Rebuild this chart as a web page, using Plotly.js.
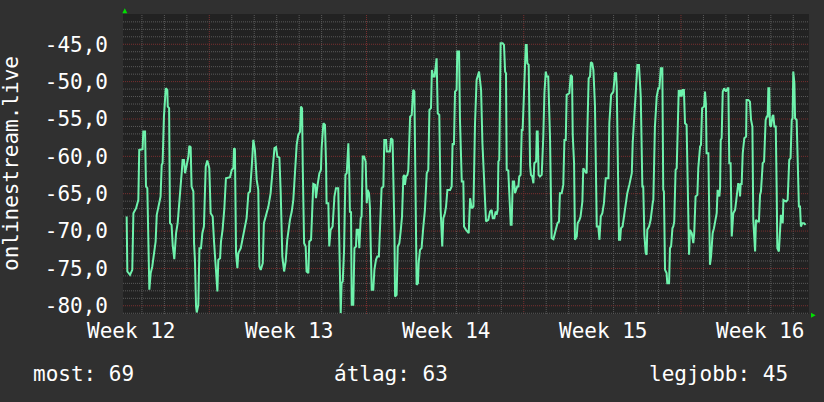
<!DOCTYPE html>
<html><head><meta charset="utf-8">
<script src="https://cdn.plot.ly/plotly-3.0.1.min.js"></script>
<style>html,body{margin:0;padding:0;background:#303030;}#chart{width:824px;height:402px;}</style>
</head><body><div id="chart"></div>
<script>
// time in days since Monday of week 12
const days = [3.32,3.35,3.47,3.57,3.62,3.74,3.84,3.88,4.03,4.06,4.14,4.18,4.24,4.29,4.33,4.39,4.46,4.54,4.61,4.66,4.76,4.83,4.88,4.92,4.98,5.06,5.13,5.15,5.21,5.25,5.32,5.37,5.44,5.52,5.59,5.67,5.74,5.78,5.81,5.87,5.92,5.99,6.07,6.11,6.17,6.21,6.29,6.32,6.36,6.41,6.44,6.51,6.56,6.63,6.69,6.76,6.84,6.91,7.00,7.06,7.15,7.21,7.30,7.36,7.40,7.48,7.52,7.59,7.67,7.74,7.92,8.00,8.07,8.10,8.14,8.19,8.25,8.29,8.40,8.51,8.59,8.66,8.74,8.81,8.89,8.96,9.03,9.11,9.18,9.23,9.29,9.38,9.43,9.55,9.63,9.73,9.82,9.90,9.97,10.03,10.12,10.18,10.25,10.33,10.40,10.47,10.59,10.67,10.74,10.82,10.89,10.96,11.04,11.08,11.13,11.16,11.22,11.29,11.33,11.41,11.45,11.53,11.59,11.63,11.71,11.75,11.82,11.90,
11.97,12.00,12.08,12.15,12.20,12.22,12.30,12.34,12.40,12.49,12.57,12.64,12.74,12.79,12.85,12.89,12.94,13.00,13.06,13.12,13.19,13.23,13.26,13.31,13.34,13.41,13.46,13.53,13.56,13.63,13.68,13.74,13.78,13.83,13.89,13.96,14.01,14.05,14.11,14.15,14.20,14.23,14.30,14.35,14.42,14.48,14.55,14.60,14.67,14.75,14.79,14.87,14.90,15.04,15.09,15.16,15.19,15.24,15.27,15.34,15.39,15.46,15.52,15.58,15.64,15.68,15.71,15.76,15.82,15.86,15.94,16.01,16.08,16.13,16.17,16.23,16.29,16.32,16.38,16.45,16.53,16.60,16.68,16.75,16.80,16.87,16.91,16.97,17.03,17.09,17.12,17.17,17.24,17.30,17.37,17.42,17.49,17.54,17.60,17.72,17.79,17.83,17.89,17.94,18.01,18.04,18.12,18.16,18.24,18.31,18.34,18.43,18.55,18.61,18.68,18.76,18.83,18.90,19.01,19.05,19.10,19.16,19.27,19.32,19.42,19.50,19.57,19.62,19.69,19.75,19.79,19.84,
19.87,19.91,19.97,20.06,20.12,20.17,20.21,20.24,20.31,20.42,20.46,20.51,20.57,20.61,20.66,20.71,20.76,20.80,20.86,20.91,20.95,21.01,21.06,21.09,21.13,21.16,21.22,21.25,21.28,21.32,21.38,21.43,21.47,21.55,21.58,21.62,21.66,21.72,21.80,21.87,21.92,21.98,22.02,22.09,22.17,22.24,22.32,22.50,22.57,22.61,22.69,22.76,22.81,22.87,22.91,23.03,23.09,23.15,23.18,23.24,23.28,23.36,23.40,23.48,23.53,23.61,23.65,23.73,23.80,23.83,23.89,23.95,23.99,24.05,24.10,24.17,24.25,24.32,24.37,24.43,24.50,24.57,24.65,24.77,24.81,24.89,24.99,25.06,25.11,25.14,25.18,25.24,25.29,25.33,25.40,25.46,25.55,25.61,25.70,25.81,25.85,25.91,26.00,26.06,26.13,26.18,26.21,26.28,26.32,26.37,26.43,26.47,26.50,26.58,26.65,26.74,26.77,26.84,26.92,26.99,27.04,
27.10,27.17,27.21,27.24,27.29,27.36,27.39,27.47,27.51,27.56,27.62,27.66,27.70,27.76,27.81,27.85,27.90,27.96,28.00,28.03,28.08,28.13,28.18,28.25,28.30,28.33,28.36,28.40,28.48,28.55,28.59,28.65,28.73,28.77,28.85,28.89,28.94,29.03,29.07,29.11,29.14,29.22,29.25,29.29,29.34,29.41,29.47,29.51,29.59,29.63,29.71,29.74,29.77,29.81,29.86,29.92,29.96,30.00,30.08,30.11,30.15,30.21,30.26,30.33,30.41,30.45,30.51,30.55,30.60,30.63,30.66,30.70,30.75,30.82,30.90,30.92,31.00,31.07,31.12,31.18,31.22,31.27,31.30,31.34,31.40,31.47,31.52,31.56,31.64,31.70,31.77,31.82,31.86,31.89,31.93,31.96,32.01,32.07,32.11,32.16,32.22,32.26,32.29,32.36,32.41,32.45,32.53,32.56,32.68,32.75,32.82,32.88,32.93,32.97,33.00,33.05,33.08,33.15,33.20,33.25,33.30,33.34,33.40,33.48,33.55];
const values = [-68.05,-75.41,-75.86,-75.19,-67.61,-66.94,-65.82,-59.14,-59.05,-56.69,-56.69,-64.04,-64.26,-76.08,-77.86,-75.63,-74.74,-72.96,-71.40,-67.83,-66.49,-65.38,-61.14,-60.92,-54.68,-50.89,-51.11,-53.34,-53.56,-68.95,-69.17,-71.84,-73.76,-70.28,-68.95,-66.27,-64.26,-61.81,-60.48,-60.48,-62.26,-61.37,-60.03,-58.60,-58.78,-64.04,-64.71,-71.62,-73.85,-80.09,-80.9,-79.87,-72.29,-72.29,-70.28,-69.39,-61.37,-60.56,-61.59,-67.61,-68.05,-71.40,-75.41,-78.09,-73.85,-73.63,-71.40,-69.84,-66.94,-62.93,-62.79,-61.81,-61.59,-58.91,-59.05,-72.96,-74.96,-72.96,-72.29,-70.51,-69.61,-68.28,-64.93,-64.71,-61.37,-57.80,-59.14,-63.15,-64.49,-74.74,-75.19,-74.30,-68.95,-67.61,-66.72,-64.93,-61.37,-58.91,-58.78,-60.03,-60.16,-64.93,-73.40,-75.41,-74.07,-71.17,-68.50,-67.39,-65.82,-61.37,-58.47,-57.13,-56.69,-53.34,-53.56,-61.37,-71.62,-72.07,-75.41,-75.63,-71.40,-71.17,-67.61,-63.68,-63.82,-65.60,-63.82,-62.26,
-61.81,-58.91,-55.57,-55.79,-61.37,-66.27,-66.27,-72.07,-69.84,-69.39,-65.38,-64.26,-64.26,-71.62,-80.98,-76.97,-76.75,-72.51,-62.48,-62.26,-58.25,-62.26,-67.52,-67.39,-79.87,-79.87,-72.29,-72.07,-69.84,-69.84,-72.29,-68.28,-68.05,-60.03,-60.03,-60.70,-66.27,-64.49,-64.93,-66.72,-72.07,-77.86,-77.86,-75.19,-73.85,-73.40,-73.40,-69.39,-64.26,-64.04,-57.80,-57.80,-59.36,-59.36,-57.58,-57.80,-61.37,-69.84,-78.75,-78.53,-72.07,-71.62,-70.06,-68.05,-62.70,-62.48,-63.82,-62.70,-62.48,-61.81,-54.68,-54.46,-51.11,-51.33,-61.59,-77.19,-76.97,-74.30,-72.51,-72.29,-69.39,-67.16,-62.26,-61.81,-53.79,-53.56,-48.44,-49.33,-49.33,-46.88,-46.88,-54.23,-54.46,-67.16,-72.07,-68.28,-67.61,-66.72,-64.49,-64.49,-64.04,-58.25,-58.47,-51.33,-51.11,-45.98,-45.98,-55.12,-63.37,-63.37,-69.39,-69.84,-70.28,-65.60,-66.94,-66.72,-55.57,-49.77,-48.66,-49.77,-51.11,-58.25,-64.93,-68.72,-68.50,-67.39,-67.16,-68.28,-68.28,-67.39,-67.83,-67.16,
-60.70,-60.47,-44.87,-44.87,-45.09,-48.66,-48.88,-61.81,-61.90,-69.17,-69.17,-63.37,-63.37,-64.93,-64.49,-64.04,-64.04,-62.70,-62.48,-56.46,-56.46,-51.56,-47.55,-45.09,-45.09,-47.55,-47.77,-56.46,-61.14,-62.48,-62.70,-63.60,-60.92,-60.70,-56.69,-56.69,-62.48,-62.70,-62.48,-57.35,-51.56,-48.66,-49.33,-49.33,-57.58,-70.95,-71.09,-68.95,-68.72,-64.93,-64.93,-63.82,-57.80,-57.80,-51.78,-51.56,-49.11,-49.33,-57.13,-60.92,-71.17,-70.73,-68.95,-68.50,-68.05,-66.05,-61.59,-62.03,-62.26,-56.69,-49.55,-49.33,-47.41,-47.55,-48.44,-53.12,-69.39,-69.39,-71.17,-68.05,-67.61,-66.27,-62.93,-62.93,-55.57,-51.78,-51.33,-48.88,-48.88,-50.67,-62.70,-71.17,-71.17,-69.61,-69.39,-68.05,-66.27,-64.93,-63.82,-62.26,-58.25,-55.35,-51.78,-47.77,-47.77,-51.78,-52.00,-64.04,-64.04,-70.51,-72.96,-73.18,-69.84,-69.39,-68.50,-66.27,-65.82,-56.02,-52.00,-50.89,-50.9,
-48.22,-48.22,-64.49,-64.71,-75.19,-75.63,-76.97,-76.97,-72.29,-72.07,-69.61,-69.39,-68.72,-61.81,-61.59,-55.57,-51.11,-52.00,-51.11,-52.00,-51.11,-51.11,-55.57,-55.79,-63.15,-70.28,-73.18,-69.84,-70.28,-71.62,-70.28,-65.38,-65.16,-61.59,-58.69,-58.47,-53.56,-53.34,-51.34,-52.90,-59.58,-59.58,-70.28,-74.52,-73.40,-70.28,-69.61,-68.95,-67.61,-64.49,-65.38,-64.26,-57.80,-57.58,-51.34,-50.89,-51.11,-51.34,-50.89,-50.89,-60.92,-60.92,-70.73,-67.61,-67.16,-66.05,-63.82,-63.60,-64.04,-65.38,-63.60,-63.82,-59.58,-57.58,-57.35,-52.45,-52.45,-52.67,-55.13,-56.02,-68.50,-72.51,-72.74,-68.50,-68.72,-68.72,-65.16,-64.71,-60.92,-60.70,-55.13,-54.68,-54.68,-50.89,-50.89,-55.79,-56.02,-54.68,-54.46,-56.02,-56.02,-64.26,-72.29,-72.74,-68.95,-67.83,-68.95,-65.83,-66.05,-65.83,-60.48,-60.25,-55.13,-54.90,-48.66,-50.22,-54.90,-55.13,-60.92,-66.72,-66.72,-69.39,-68.95,-68.95,-69.17];

const yTickVals = [-80,-75,-70,-65,-60,-55,-50,-45];
const weekStartDays = [7,14,21,28];
const weekLabelDays = [3.55,10.55,17.55,24.55,31.55];
const weekLabels = ['Week 12','Week 13','Week 14','Week 15','Week 16'];
const legendTexts = ['most: 69','átlag: 63','legjobb: 45'];
const yTitle = 'onlinestream.live';

const FONT = 'DejaVu Sans Mono, monospace';
const W = 824, H = 402, L = 123, R = 15, T = 14, B = 88;
const pw = W - L - R, ph = H - T - B;
const px = v => (v - L) / pw;         // pixel x -> paper x
const py = v => (H - B - v) / ph;     // pixel y -> paper y

const xRange = [3.157, 33.70], yRange = [-81.1, -40.95];
const MAJOR = '#7a3030', MINOR = '#5a5a5a', DASH = '1px,1px';

// grid lines (every day / every unit minor, every week / every 5 units major)
const shapes = [];
for (let d = Math.ceil(xRange[0]); d <= xRange[1]; d++) {
  shapes.push({type: 'line', xref: 'x', yref: 'paper', x0: d, x1: d, y0: 0, y1: 1, layer: 'below',
    line: {color: weekStartDays.includes(d) ? MAJOR : MINOR, width: 1, dash: DASH}});
}
for (let v = Math.ceil(yRange[0]); v < yRange[1] - 0.2; v++) {
  shapes.push({type: 'line', xref: 'paper', yref: 'y', x0: 0, x1: 1, y0: v, y1: v, layer: 'below',
    line: {color: yTickVals.includes(v) ? MAJOR : MINOR, width: 1, dash: DASH}});
}
// axis arrows
shapes.push(
  {type: 'path', xref: 'paper', yref: 'paper',
   path: `M ${px(124.8)} ${py(8.3)} L ${px(122.3)} ${py(13.3)} L ${px(127.3)} ${py(13.3)} Z`,
   fillcolor: '#00e000', line: {width: 0}},
  {type: 'path', xref: 'paper', yref: 'paper',
   path: `M ${px(815.7)} ${py(315.2)} L ${px(811)} ${py(312.7)} L ${px(811)} ${py(317.7)} Z`,
   fillcolor: '#00e000', line: {width: 0}}
);

const trace = {
  x: days, y: values, type: 'scatter', mode: 'lines',
  line: {color: 'rgb(110,242,172)', width: 2},
  hoverinfo: 'skip'
};

const annotations = [];
weekLabels.forEach((t, i) => annotations.push({
  text: t, x: weekLabelDays[i], xref: 'x', y: 0, yref: 'paper',
  xanchor: 'center', yanchor: 'middle', yshift: -17, showarrow: false,
  font: {family: FONT, size: 21, color: '#ffffff'}
}));
const legendX = [30.5, 332, 647];
legendTexts.forEach((t, i) => annotations.push({
  text: t, x: px(legendX[i]), xref: 'paper', y: 0, yref: 'paper',
  xanchor: 'left', yanchor: 'middle', yshift: -60, showarrow: false,
  font: {family: FONT, size: 21, color: '#ffffff'}
}));
annotations.push({
  text: yTitle, x: px(11), xref: 'paper', y: 0.5, yref: 'paper',
  xanchor: 'center', yanchor: 'middle', textangle: -90, showarrow: false,
  font: {family: FONT, size: 21, color: '#ffffff'}
});

const layout = {
  width: W, height: H,
  margin: {l: L, r: R, t: T, b: B, pad: 0},
  paper_bgcolor: '#303030', plot_bgcolor: '#222222',
  showlegend: false,
  xaxis: {
    range: xRange, showgrid: false, showticklabels: false, ticks: '',
    zeroline: false, showline: false
  },
  yaxis: {
    range: yRange, tickmode: 'array', tickvals: yTickVals,
    ticktext: yTickVals.map(v => v.toFixed(1).replace('.', ',')),
    ticks: '', ticklabelstandoff: 14, zeroline: false, showline: false, showgrid: false,
    tickfont: {family: FONT, size: 21, color: '#ffffff'}
  },
  annotations: annotations,
  shapes: shapes
};

Plotly.newPlot('chart', [trace], layout, {displayModeBar: false, staticPlot: true});
</script>
</body></html>
